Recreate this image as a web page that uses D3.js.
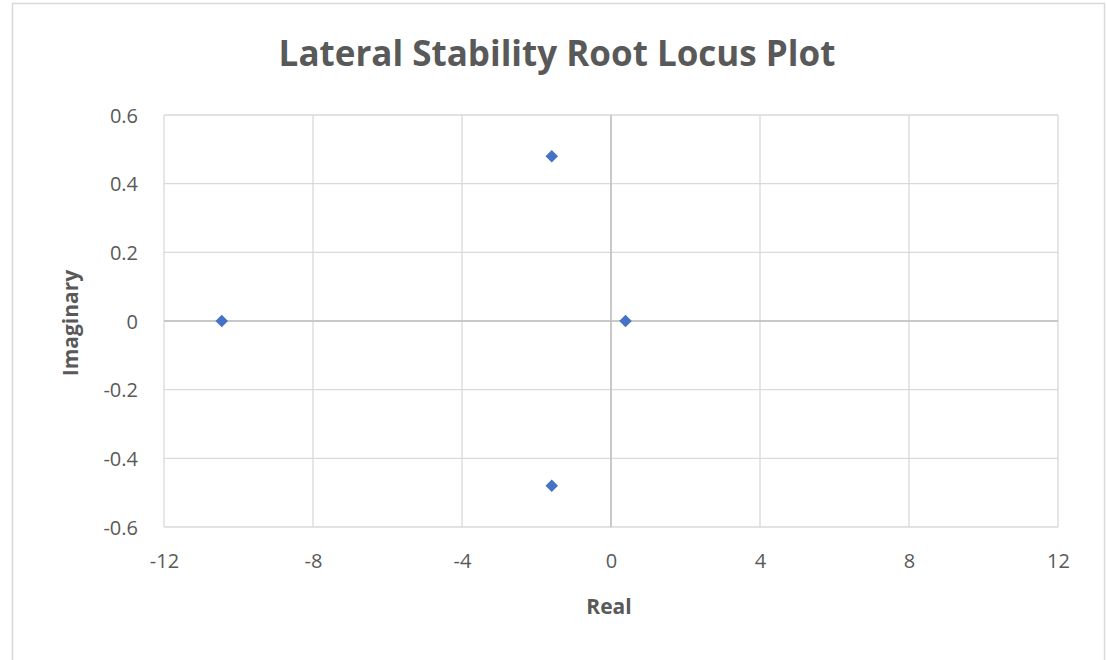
<!DOCTYPE html>
<html>
<head>
<meta charset="utf-8">
<script src="https://cdn.jsdelivr.net/npm/d3@7"></script>
<style>
  html, body { margin: 0; padding: 0; background: #fff; }
  svg { display: block; }
  text { font-family: "Open Sans", Lato, "Liberation Sans", sans-serif; }
</style>
</head>
<body>
<svg id="chart" width="1107" height="660"></svg>
<script>
// Lateral-directional eigenvalues (real, imaginary parts)
const realParts = [-10.45, -1.59, -1.59, 0.39];
const imagParts = [0, 0.48, -0.48, 0];

const xTicks = [-12, -8, -4, 0, 4, 8, 12];
const yTicks = [-0.6, -0.4, -0.2, 0, 0.2, 0.4, 0.6];

const chartTitle = "Lateral Stability Root Locus Plot";
const xTitle = "Real";
const yTitle = "Imaginary";

const svg = d3.select("#chart");
const plot = { left: 164, top: 115, right: 1058, bottom: 527 };

// chart frame
svg.append("rect")
  .attr("x", 12.5).attr("y", 3.5)
  .attr("width", 1092).attr("height", 670)
  .attr("fill", "#fff").attr("stroke", "#d9d9d9").attr("stroke-width", 1.5);

const x = d3.scaleLinear().domain([-12, 12]).range([plot.left, plot.right]);
const y = d3.scaleLinear().domain([-0.6, 0.6]).range([plot.bottom, plot.top]);

// gridlines
const grid = svg.append("g");
grid.selectAll(".vg").data(xTicks).join("line")
  .attr("x1", d => x(d)).attr("x2", d => x(d))
  .attr("y1", plot.top).attr("y2", plot.bottom)
  .attr("stroke", "#d9d9d9").attr("stroke-width", 1.3);
grid.selectAll(".hg").data(yTicks).join("line")
  .attr("x1", plot.left).attr("x2", plot.right)
  .attr("y1", d => y(d)).attr("y2", d => y(d))
  .attr("stroke", "#d9d9d9").attr("stroke-width", 1.3);

// axes crossing at the origin
svg.append("line")
  .attr("x1", plot.left).attr("x2", plot.right)
  .attr("y1", y(0)).attr("y2", y(0))
  .attr("stroke", "#bfbfbf").attr("stroke-width", 1.5);
svg.append("line")
  .attr("x1", x(0)).attr("x2", x(0))
  .attr("y1", plot.top).attr("y2", plot.bottom)
  .attr("stroke", "#bfbfbf").attr("stroke-width", 1.5);

// tick labels, placed along the plot edges with plain hyphen minus signs
const fmtX = d => String(d);
const fmtY = d => d === 0 ? "0" : d.toFixed(1);
const xAxis = d3.axisBottom(x).tickValues(xTicks).tickSize(0).tickPadding(0).tickFormat(fmtX);
const gx = svg.append("g").attr("transform", `translate(0,${plot.bottom + 41})`).call(xAxis);
const yAxis = d3.axisLeft(y).tickValues(yTicks).tickSize(0).tickPadding(0).tickFormat(fmtY);
const gy = svg.append("g").attr("transform", `translate(138,0)`).call(yAxis);
[gx, gy].forEach(g => {
  g.select(".domain").remove();
  g.selectAll("text")
    .attr("fill", "#595959")
    .style("font-size", "20px")
    .style("font-family", "'Open Sans', Lato, sans-serif");
});
gx.selectAll("text").attr("dy", "0");
gy.selectAll("text").attr("dy", "0.36em");

// eigenvalue markers
const pts = realParts.map((r, i) => ({ re: r, im: imagParts[i] }));
svg.append("g").selectAll("path").data(pts).join("path")
  .attr("d", d3.symbol().type(d3.symbolDiamond2).size(100))
  .attr("transform", d => `translate(${x(d.re)},${y(d.im)})`)
  .attr("fill", "#4472c4");

// titles
svg.append("text")
  .attr("x", 557).attr("y", 66)
  .attr("text-anchor", "middle")
  .attr("fill", "#595959")
  .style("font-size", "35px").style("font-weight", "bold")
  .text(chartTitle);

svg.append("text")
  .attr("x", 609).attr("y", 614)
  .attr("text-anchor", "middle")
  .attr("fill", "#595959")
  .style("font-size", "21px").style("font-weight", "bold")
  .text(xTitle);

svg.append("text")
  .attr("transform", `translate(78,${y(0) + 2}) rotate(-90)`)
  .attr("text-anchor", "middle")
  .attr("fill", "#595959")
  .style("font-size", "21px").style("font-weight", "bold")
  .text(yTitle);
</script>
</body>
</html>
